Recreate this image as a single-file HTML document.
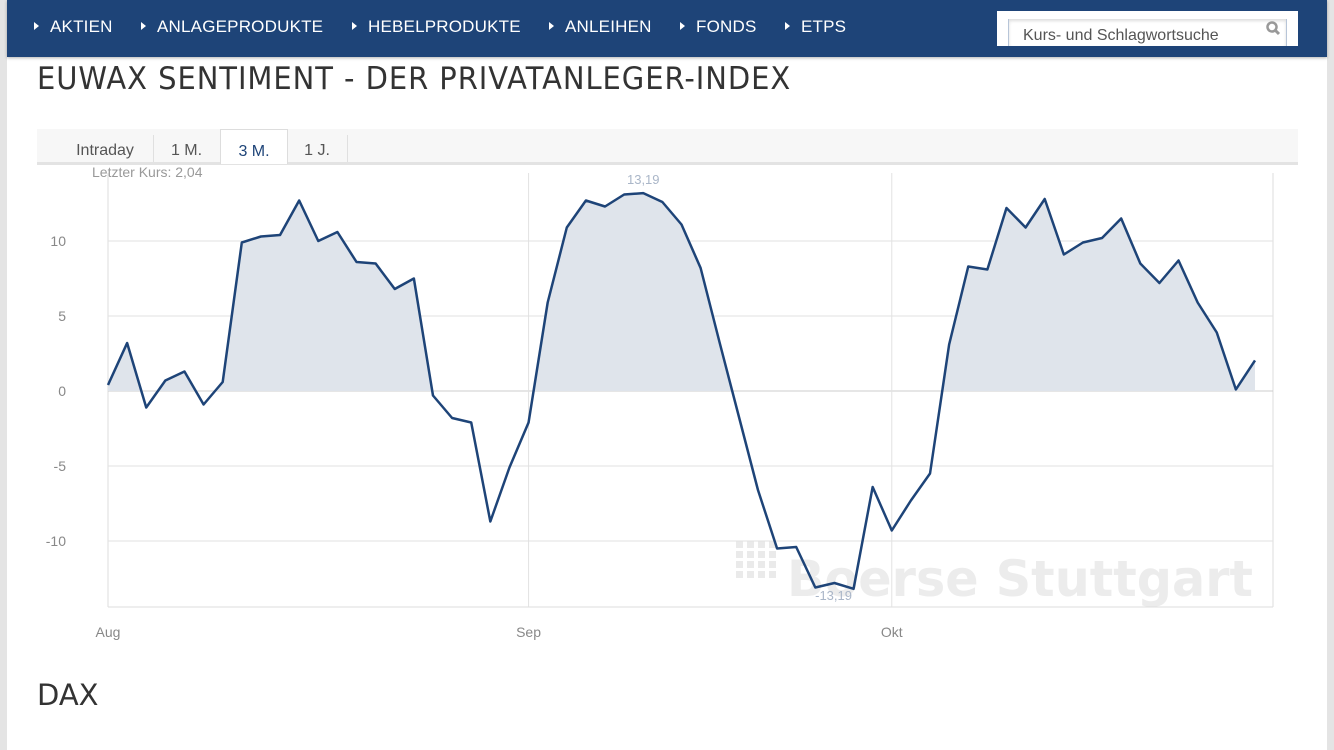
<!DOCTYPE html>
<html><head><meta charset="utf-8">
<style>
body{margin:0;width:1334px;height:750px;background:#e4e4e4;font-family:"Liberation Sans",sans-serif;overflow:hidden;position:relative}
#page{position:absolute;left:7px;top:0;width:1320px;height:750px;background:#fff}
#nav{position:absolute;left:0;top:0;width:1320px;height:57px;background:#1e4478;box-shadow:0 1px 3px rgba(0,0,0,.3)}
.ni{position:absolute;top:17px;color:#fff;font-size:17px;letter-spacing:.2px}
.ni:before{content:"";display:inline-block;border-left:5px solid #fff;border-top:4px solid transparent;border-bottom:4px solid transparent;margin-right:11px;vertical-align:2px}
#search{position:absolute;left:990px;top:11px;width:301px;height:35px;background:#fff}
#sin{position:absolute;left:11px;top:8px;width:277px;height:27px;border-left:1px solid #b7c5d8;border-right:1px solid #b7c5d8;background:#fff;box-shadow:inset 0 2px 3px #ddd}
#sin span{position:absolute;left:14px;top:8px;font-size:16px;color:#555}
h1{position:absolute;left:30px;top:61px;margin:0;font-weight:normal;font-size:31px;color:#333;letter-spacing:1px;font-family:"DejaVu Sans","Liberation Sans",sans-serif;transform:scaleX(.935);transform-origin:left}
#tabs{position:absolute;left:30px;top:129px;width:1261px;height:33px;background:#f7f7f7;border-bottom:3px solid #e3e3e3}
.tab{position:absolute;top:0;height:33px;font-size:16px;color:#555;line-height:44px;text-align:center}
.sep{position:absolute;top:6px;width:1px;height:27px;background:#e0e0e0}
#dax{position:absolute;left:30px;top:678px;font-size:29px;color:#333;font-family:"DejaVu Sans","Liberation Sans",sans-serif}
</style></head><body>
<div id="page">
<div id="nav">
<span class="ni" style="left:27px">AKTIEN</span>
<span class="ni" style="left:134px">ANLAGEPRODUKTE</span>
<span class="ni" style="left:345px">HEBELPRODUKTE</span>
<span class="ni" style="left:542px">ANLEIHEN</span>
<span class="ni" style="left:673px">FONDS</span>
<span class="ni" style="left:778px">ETPS</span>
<div id="search"><div id="sin"><span>Kurs- und Schlagwortsuche</span>
<svg style="position:absolute;right:5px;top:1px" width="16" height="16"><circle cx="7" cy="7" r="4.5" fill="none" stroke="#999" stroke-width="2.5"/><line x1="10" y1="10" x2="14" y2="14" stroke="#999" stroke-width="3"/></svg></div></div>
</div>
<h1>EUWAX SENTIMENT - DER PRIVATANLEGER-INDEX</h1>
<div id="tabs">
<div class="tab" style="left:20px;width:96px">Intraday</div>
<div class="sep" style="left:116px"></div>
<div class="tab" style="left:117px;width:65px">1 M.</div>
<div class="tab" style="left:183px;width:66px;background:#fff;border:1px solid #ddd;border-bottom:none;height:34px;color:#1e4478">3 M.</div>
<div class="tab" style="left:250px;width:60px">1 J.</div>
<div class="sep" style="left:310px"></div>
</div>
<div id="dax">DAX</div>
</div>
<svg id="chart" width="1334" height="750" style="position:absolute;left:0;top:0"></svg>
<script>
const values=[0.4,3.2,-1.1,0.7,1.3,-0.9,0.6,9.9,10.3,10.4,12.7,10.0,10.6,8.6,8.5,6.8,7.5,-0.3,-1.8,-2.1,-8.7,-5.1,-2.1,
5.9,10.9,12.7,12.3,13.1,13.19,12.6,11.1,8.2,3.2,-1.7,-6.6,-10.5,-10.4,-13.1,-12.8,-13.19,-6.4,-9.3,
-7.3,-5.5,3.1,8.3,8.1,12.2,10.9,12.8,9.1,9.9,10.2,11.5,8.5,7.2,8.7,5.9,3.9,0.1,2.04];
const yTicks=[10,5,0,-5,-10];
const monthLabels=["Aug","Sep","Okt"];
const monthIndex=[0,22,41];
const NS="http://www.w3.org/2000/svg";
const svg=document.getElementById('chart');
const X=i=>108+i*(1255-108)/(values.length-1);
const Y=v=>391-v*15;
function mk(t,a,p){const e=document.createElementNS(NS,t);for(const k in a)e.setAttribute(k,a[k]);(p||svg).appendChild(e);return e;}
// watermark
const wm=mk('text',{x:787,y:596,'font-size':50,'font-weight':'bold',fill:'#ececec','font-family':'DejaVu Sans, sans-serif',textLength:466,lengthAdjust:'spacingAndGlyphs'});
wm.textContent='Boerse Stuttgart';


for(let r=0;r<4;r++)for(let c=0;c<4;c++)mk('rect',{x:736+c*11,y:541+r*10,width:7,height:7,fill:'#eaeaea'});
// frame
mk('line',{x1:108,y1:173,x2:108,y2:607,stroke:'#ddd'});
mk('line',{x1:108,y1:607,x2:1273,y2:607,stroke:'#ddd'});
mk('line',{x1:1273,y1:173,x2:1273,y2:607,stroke:'#ddd'});
yTicks.forEach(v=>{
  const g=mk('line',{x1:108,y1:Y(v),x2:1273,y2:Y(v),stroke:v===0?'#ccc':'#e2e2e2'});
  
  const t=mk('text',{x:66,y:Y(v)+5,'text-anchor':'end','font-size':14,fill:'#888','font-family':'Liberation Sans, sans-serif'});
  t.textContent=v;
  
  
});
monthLabels.forEach((m,k)=>{
  const x=X(monthIndex[k]);
  if(k>0) mk('line',{x1:x,y1:173,x2:x,y2:607,stroke:'#e2e2e2'});
  const t=mk('text',{x:x,y:637,'text-anchor':'middle','font-size':14,fill:'#888','font-family':'Liberation Sans, sans-serif'});
  t.textContent=m;
  
  
});
// area (positive part)
let d='M'+X(0)+','+Y(0);
for(let i=0;i<values.length;i++){
  const v=values[i];
  if(i>0){const p=values[i-1];if((p>0)!==(v>0)){const f=p/(p-v);d+=' L'+(X(i-1)+f*(X(i)-X(i-1)))+','+Y(0);}}
  d+=' L'+X(i)+','+Y(Math.max(v,0));
}
d+=' L'+X(values.length-1)+','+Y(0)+' Z';
const area=mk('path',{d:d,fill:'#dfe4eb'});


const line=mk('polyline',{points:values.map((v,i)=>X(i)+','+Y(v)).join(' '),fill:'none',stroke:'#1e4478','stroke-width':2.5,'stroke-linejoin':'round'});


// labels
const mx=values.indexOf(Math.max(...values)),mn=values.indexOf(Math.min(...values));
const lt=mk('text',{x:X(mx),y:Y(values[mx])-9,'text-anchor':'middle','font-size':13,fill:'#aab6c8','font-family':'Liberation Sans, sans-serif'});
lt.textContent=String(values[mx]).replace('.',',');


const lb=mk('text',{x:X(mn)-20,y:Y(values[mn])+11,'text-anchor':'middle','font-size':13,fill:'#aab6c8','font-family':'Liberation Sans, sans-serif'});
lb.textContent=String(values[mn]).replace('.',',');


const lk=mk('text',{x:92,y:177,'font-size':14,fill:'#999','font-family':'Liberation Sans, sans-serif'});
lk.textContent='Letzter Kurs: '+String(values[values.length-1]).replace('.',',');


</script>
</body></html>
